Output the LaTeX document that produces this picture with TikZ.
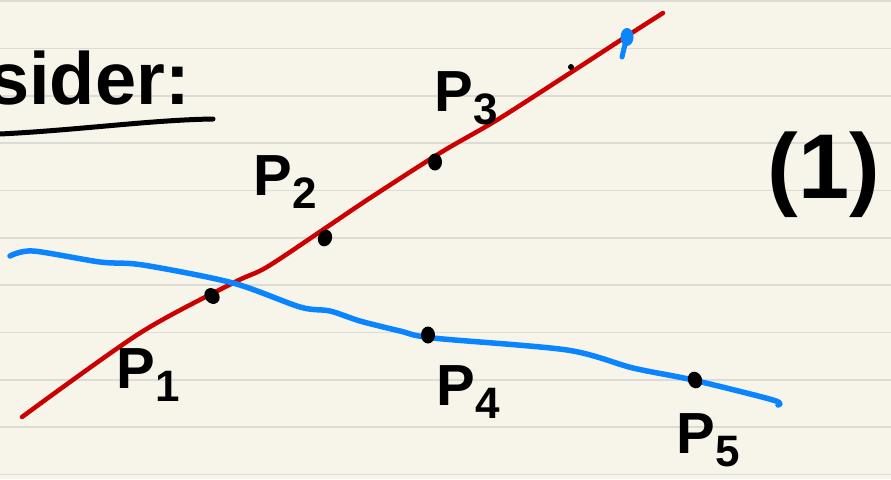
\documentclass[tikz,border=0pt]{standalone}
\usepackage{fontspec}
\setmainfont{Liberation Sans}
\definecolor{paper}{HTML}{F7F5EA}
\definecolor{rulegray}{HTML}{DCDBD6}
\definecolor{inkred}{HTML}{CC0000}
\definecolor{inkblue}{HTML}{0A84FF}
\usetikzlibrary{shapes.geometric}
\tikzset{
  rule/.style={draw=rulegray, line width=1.6pt},
  redline/.style={draw=inkred, line width=4.5pt, line cap=round, line join=round},
  blueline/.style={draw=inkblue, line width=5.5pt, line cap=round, line join=round},
  dotmark/.style={fill=black, ellipse, minimum width=14pt, minimum height=17pt, inner sep=0pt},
  lbl/.style={font=\fontsize{58}{58}\selectfont\bfseries, inner sep=0pt}
}
\newcommand\plab[1]{P\raisebox{-0.22em}{\fontsize{44}{44}\selectfont #1}}
\begin{document}
\begin{tikzpicture}[x=1pt,y=-1pt]
\useasboundingbox (0,0) rectangle (891,479);
\fill[paper] (0,0) rectangle (891,479);
\foreach \k in {0,...,10} \draw[rule] (0,{1+47.35*\k}) -- (891,{1+47.35*\k});
% heading
\node[anchor=base west, inner sep=0pt, font=\fontsize{74}{74}\selectfont\bfseries] (head) at (-12,104) {sider:};
\draw[line width=5pt, line cap=round] (0,134) .. controls (80,130) and (150,120) .. (213,119);
% red line
\draw[redline] plot[smooth, tension=0.5] coordinates {(22,417) (140,333) (233,283) (267,267) (327,227) (367,200) (440,153) (497,120) (567,75) (627,36) (663,13)};
% blue line
\draw[blueline] plot[smooth, tension=0.5] coordinates {(10,256) (33,251) (100,262) (143,265) (233,283) (300,307) (330,311) (360,321) (400,331) (433,338) (567,350) (633,368) (693,380) (773,400) (778,405)};
% blue blob
\fill[inkblue] (627,37) ellipse [x radius=6.5pt, y radius=9pt];
\draw[inkblue, line width=5pt, line cap=round] (626,40) -- (622,57);
% small dot
\fill[black] (571,67) circle (3pt);
% points
\node[dotmark, rotate=40] (p1) at (212,296) {};
\node[dotmark, rotate=-20] (p2) at (325,238) {};
\node[dotmark] (p3) at (435,162) {};
\node[dotmark] (p4) at (428,335) {};
\node[dotmark, rotate=20] (p5) at (695,380) {};
% labels
\node[lbl] (l1) at (148,375) {\plab{1}};
\node[lbl] (l2) at (285,182) {\plab{2}};
\node[lbl] (l3) at (466,98) {\plab{3}};
\node[lbl] (l4) at (468,392) {\plab{4}};
\node[lbl] (l5) at (708,440) {\plab{5}};
\node[inner sep=0pt, font=\fontsize{92}{92}\selectfont\bfseries] (one) at (824,175) {(1)};
\end{tikzpicture}
\end{document}
